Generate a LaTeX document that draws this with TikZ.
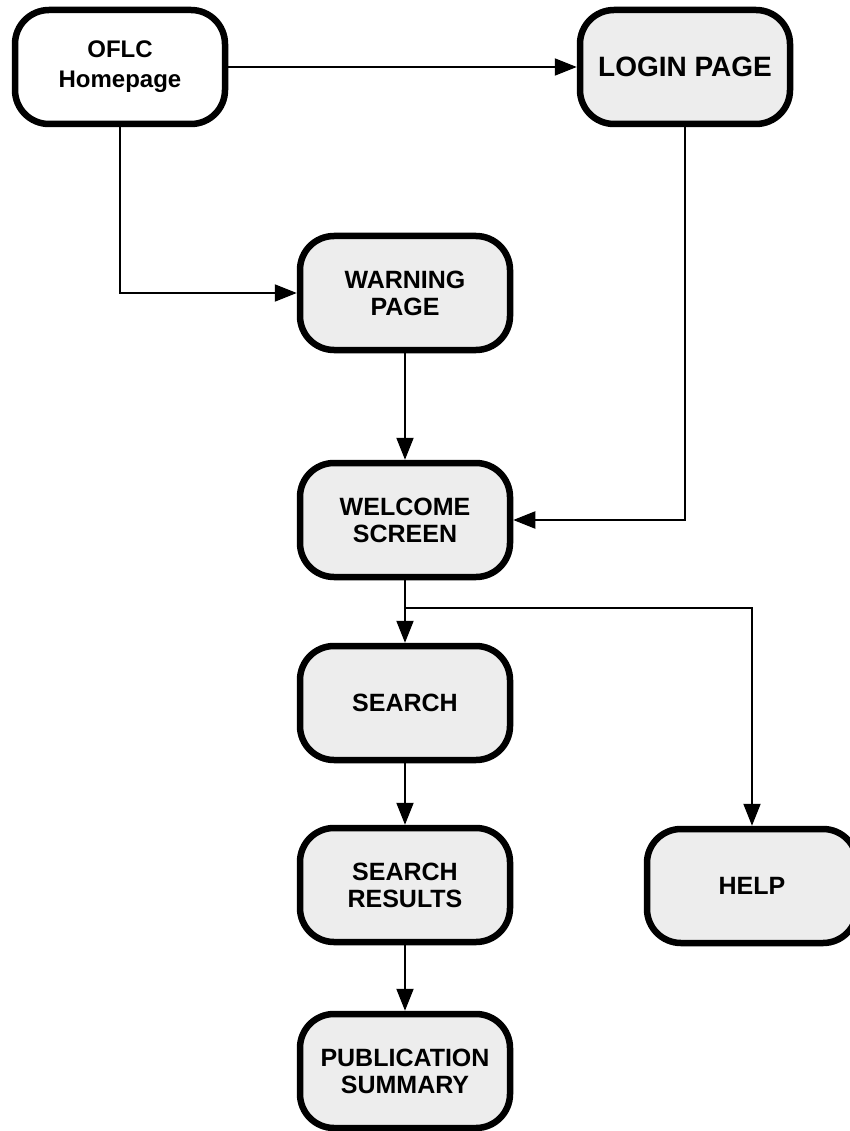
\documentclass[tikz,border=0pt]{standalone}
\usepackage{fontspec}
\setmainfont{Liberation Sans}
\usetikzlibrary{arrows.meta}
\tikzset{
  page/.style={draw=black, line width=6.5pt, rounded corners=34pt, fill=gray!14,
    minimum width=210pt, minimum height=114pt, align=center,
    font=\fontsize{25}{27}\selectfont\bfseries, inner sep=0pt},
  whitepage/.style={page, fill=white, font=\fontsize{24}{30}\selectfont\bfseries},
  bigtext/.style={font=\fontsize{28}{30}\selectfont\bfseries},
  link/.style={line width=2pt, -{Triangle[length=22pt,width=17pt]}}
}
\begin{document}
\begin{tikzpicture}[x=1pt,y=-1pt]
\useasboundingbox (0,0) rectangle (850,1131);
\node[whitepage] (home) at (120,67) {OFLC\\Homepage};
\node[page, bigtext] (login) at (685,67) {LOGIN PAGE};
\node[page] (warn) at (405,293) {WARNING\\PAGE};
\node[page] (welcome) at (405,520) {WELCOME\\SCREEN};
\node[page] (search) at (405,703) {SEARCH};
\node[page] (results) at (405,885) {SEARCH\\RESULTS};
\node[page] (pub) at (405,1071) {PUBLICATION\\SUMMARY};
\node[page] (help) at (752,886) {HELP};
\coordinate (br) at (405,608);
\draw[link] (home.east) -- (login.west);
\draw[link] (home.south) |- (warn.west);
\draw[link] (login.south) |- (welcome.east);
\draw[link] (warn.south) -- (welcome.north);
\draw[link] (welcome.south) -- (search.north);
\draw[link] (br) -| (help.north);
\draw[link] (search.south) -- (results.north);
\draw[link] (results.south) -- (pub.north);
\end{tikzpicture}
\end{document}
